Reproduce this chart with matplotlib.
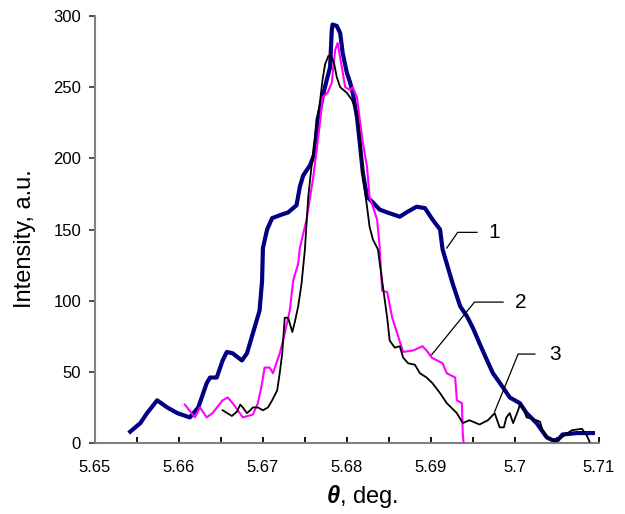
import matplotlib
matplotlib.use("Agg")
import matplotlib.pyplot as plt
from matplotlib.ticker import MultipleLocator

plt.rcParams["font.family"] = ["Liberation Sans", "DejaVu Sans"]
plt.rcParams["mathtext.fontset"] = "custom"
plt.rcParams["mathtext.it"] = "Liberation Sans:italic:bold"
plt.rcParams["mathtext.rm"] = "Liberation Sans"

# Curve 1 (thick navy)
theta1 = [5.6542, 5.6554, 5.6562, 5.6574, 5.6586, 5.6598, 5.6613, 5.6623, 5.6633,
          5.6637, 5.6645, 5.6652, 5.6657, 5.6664, 5.6675, 5.6681, 5.6688, 5.6696,
          5.6699, 5.6700, 5.6705, 5.6711, 5.6720, 5.6730, 5.6740, 5.6744, 5.6748,
          5.6756, 5.6762, 5.6765, 5.6768, 5.6771, 5.6776, 5.6780, 5.6782, 5.6783,
          5.6788, 5.6792, 5.6795, 5.6800, 5.6804, 5.6807, 5.6812, 5.6815, 5.6819,
          5.6824, 5.6831, 5.6839, 5.6848, 5.6863, 5.6871, 5.6883, 5.6893, 5.6902,
          5.6911, 5.6914, 5.6919, 5.6926, 5.6935, 5.6943, 5.6950, 5.6958, 5.6967,
          5.6974, 5.6986, 5.6994, 5.7006, 5.7014, 5.7026, 5.7038, 5.7045, 5.7051,
          5.7057, 5.7074, 5.7093]
inten1 = [8, 14, 21, 30, 25, 21, 18, 25, 42,
          46, 46, 58, 64, 63, 58, 63, 77, 93,
          114, 137, 150, 158, 160, 162, 167, 180, 188,
          195, 204, 227, 234, 243, 255, 264, 290, 294,
          293, 288, 274, 260, 253, 246, 229, 213, 190,
          173, 169, 164, 162, 159, 162, 166, 165, 157,
          150, 136, 126, 112, 96, 89, 81, 70, 58,
          49, 39, 32, 28, 21, 14, 4, 2, 2,
          6, 7, 7]

# Curve 2 (magenta)
theta2 = [5.6607, 5.6619, 5.6625, 5.6633, 5.6640, 5.6652, 5.6658, 5.6664, 5.6676,
          5.6688, 5.6694, 5.6699, 5.6702, 5.6708, 5.6712, 5.6720, 5.6724, 5.6732,
          5.6736, 5.6742, 5.6744, 5.6752, 5.6760, 5.6764, 5.6768, 5.6771, 5.6777,
          5.6782, 5.6786, 5.6789, 5.6794, 5.6798, 5.6804, 5.6807, 5.6812, 5.6815,
          5.6819, 5.6824, 5.6827, 5.6831, 5.6836, 5.6839, 5.6842, 5.6848, 5.6854,
          5.6860, 5.6867, 5.6879, 5.6890, 5.6895, 5.6901, 5.6914, 5.6919, 5.6929,
          5.6931, 5.6937, 5.6938, 5.6939]
inten2 = [27, 18, 25, 18, 21, 30, 32, 28, 18,
          20, 28, 42, 53, 53, 49, 63, 72, 93,
          114, 126, 137, 157, 187, 206, 225, 243, 246,
          253, 276, 281, 264, 250, 248, 250, 243, 229,
          211, 194, 173, 166, 157, 138, 107, 106, 88,
          77, 64, 65, 68, 65, 60, 56, 49, 46,
          30, 28, 7, 0]

# Curve 3 (black)
theta3 = [5.6652, 5.6663, 5.6669, 5.6673, 5.6676, 5.6681, 5.6685, 5.6688, 5.6694,
          5.6700, 5.6706, 5.6711, 5.6717, 5.6720, 5.6723, 5.6726, 5.6730, 5.6735,
          5.6738, 5.6742, 5.6746, 5.6750, 5.6754, 5.6760, 5.6765, 5.6768, 5.6771,
          5.6774, 5.6778, 5.6782, 5.6785, 5.6788, 5.6792, 5.6800, 5.6806, 5.6812,
          5.6815, 5.6819, 5.6824, 5.6827, 5.6831, 5.6837, 5.6842, 5.6848, 5.6851,
          5.6857, 5.6863, 5.6867, 5.6873, 5.6881, 5.6887, 5.6895, 5.6902, 5.6911,
          5.6919, 5.6931, 5.6938, 5.6946, 5.6958, 5.6968, 5.6976, 5.6982, 5.6987,
          5.6990, 5.6994, 5.6998, 5.7004, 5.7006, 5.7010, 5.7014, 5.7021, 5.7030,
          5.7033, 5.7039, 5.7048, 5.7056, 5.7068, 5.7080, 5.7086, 5.7089]
inten3 = [23, 19, 22, 27, 25, 21, 23, 25, 25,
          23, 25, 30, 37, 49, 63, 88, 88, 78,
          85, 96, 112, 136, 173, 206, 229, 240, 255,
          266, 272, 271, 266, 257, 250, 246, 241, 232,
          218, 187, 166, 152, 143, 136, 114, 88, 72,
          67, 68, 60, 56, 55, 49, 46, 42, 35,
          28, 21, 14, 16, 13, 16, 21, 11, 11,
          18, 21, 14, 23, 27, 25, 18, 17, 15,
          9, 4, 1, 4, 9, 10, 5, 1]

xtick_vals = [5.65, 5.66, 5.67, 5.68, 5.69, 5.70, 5.71]
xtick_text = ["5.65", "5.66", "5.67", "5.68", "5.69", "5.7", "5.71"]
ytick_vals = [0, 50, 100, 150, 200, 250, 300]

fig = plt.figure(figsize=(6.25, 5.14), dpi=100)
ax = fig.add_axes([0.152, 0.1381, 0.806, 0.8308])

ax.plot(theta1, inten1, color="#000080", lw=3.0, solid_joinstyle="round", zorder=2)
ax.plot(theta2, inten2, color="#ff00ff", lw=1.5, zorder=3)
ax.plot(theta3, inten3, color="black", lw=1.3, zorder=4)

ax.set_xlim(5.65, 5.71)
ax.set_ylim(0, 300)

ax.set_xticks(xtick_vals)
ax.set_xticklabels(xtick_text)
ax.xaxis.set_minor_locator(MultipleLocator(0.005))
ax.set_yticks(ytick_vals)

for side in ("top", "right"):
    ax.spines[side].set_visible(False)
for side in ("left", "bottom"):
    ax.spines[side].set_color("#808080")
    ax.spines[side].set_linewidth(1.5)

ax.tick_params(axis="x", which="both", direction="in", length=4, width=1.3,
               color="black", labelsize=12, pad=12)
ax.tick_params(axis="y", which="major", direction="out", length=4, width=1.3,
               color="#404040", labelsize=12, pad=6)

# Curve number callouts
callouts = [("1", (5.6919, 137), (5.6932, 148), (5.6955, 148), (5.6968, 148)),
            ("2", (5.6901, 62), (5.6952, 99), (5.6986, 99), (5.7000, 99)),
            ("3", (5.6976, 22), (5.7004, 62.5), (5.7024, 62.5), (5.7041, 62.5))]
for label, p0, p1, p2, pt in callouts:
    ax.plot([p0[0], p1[0], p2[0]], [p0[1], p1[1], p2[1]], color="black",
            lw=0.9, zorder=5)
    ax.text(pt[0], pt[1], label, fontsize=15, ha="left", va="center", zorder=6)

fig.text(25 / 625, 0.535, "Intensity, a.u.", rotation=90, fontsize=17,
         ha="center", va="center")
fig.text(362 / 625, 0.0214, r"$\mathit{\theta}$, deg.", fontsize=17,
         ha="center", va="baseline")

fig.savefig("out.png", dpi=100)
